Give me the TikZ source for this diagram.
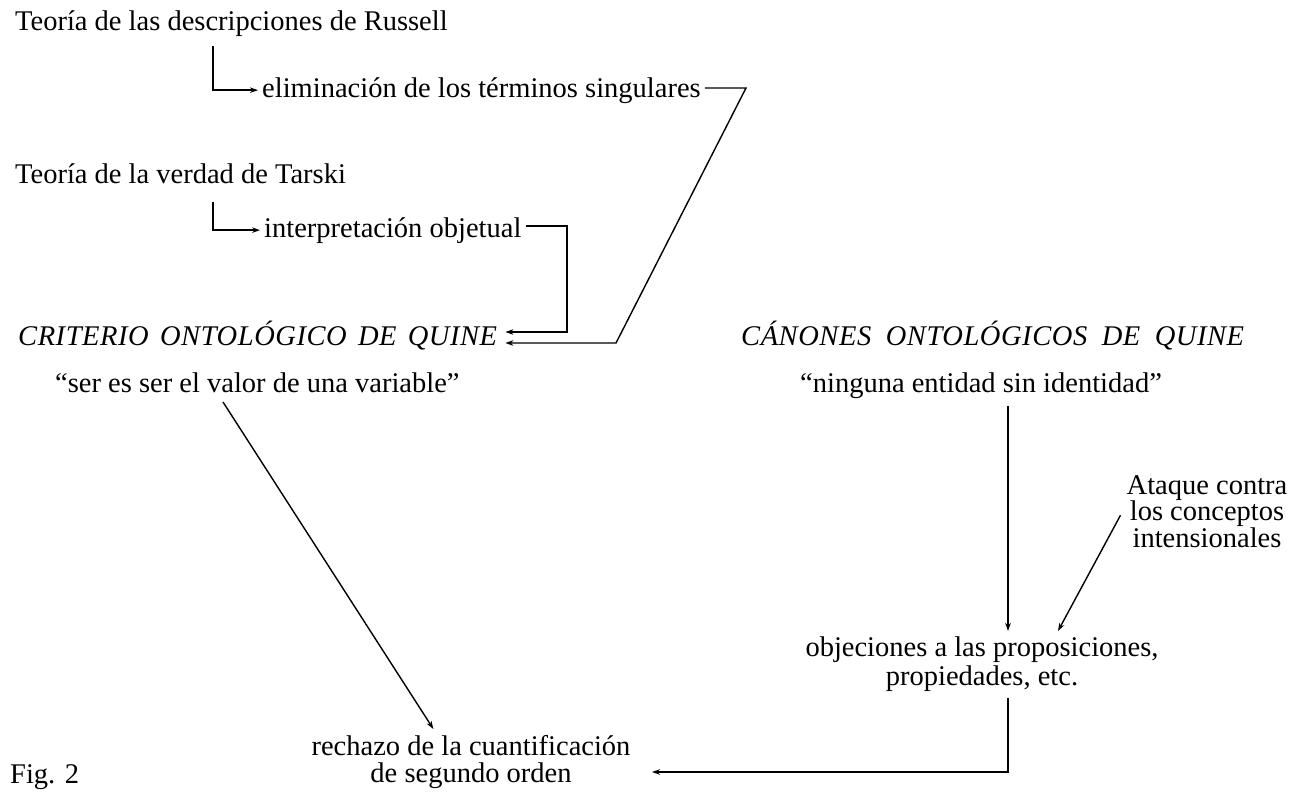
\documentclass[tikz,border=0pt]{standalone}
\usepackage{fontspec}
\setmainfont{Liberation Serif}
\newfontfamily\spacedit[LetterSpace=2]{Liberation Serif Italic}
\usetikzlibrary{arrows.meta,calc}
\begin{document}
\begin{tikzpicture}[x=1pt,y=-1pt,
  txt/.style={inner sep=0pt, font=\fontsize{28.5}{26}\selectfont},
  arr/.style={line width=1.4pt, -{Stealth[length=8pt,width=5.5pt]}}]
\useasboundingbox (0,0) rectangle (1314,793);
% texts
\node[txt, anchor=base west] (russell) at (15,30) {Teoría de las descripciones de Russell};
\node[txt, anchor=base west] (elim) at (262,97) {eliminación de los términos singulares};
\node[txt, anchor=base west] (tarski) at (15,183) {Teoría de la verdad de Tarski};
\node[txt, anchor=base west] (interp) at (264,237) {interpretación objetual};
\node[txt, anchor=base west] (criterio) at (18,345) {\makebox[479pt][s]{\spacedit CRITERIO ONTOLÓGICO DE QUINE}};
\node[txt, anchor=base west] (ser) at (55,392) {“ser es ser el valor de una variable”};
\node[txt, anchor=base west] (canones) at (741,345) {\makebox[503pt][s]{\spacedit CÁNONES ONTOLÓGICOS DE QUINE}};
\node[txt, anchor=base west] (ninguna) at (800,392) {“ninguna entidad sin identidad”};
\node[txt, align=center, anchor=north, font=\fontsize{28.5}{26.5}\selectfont] (ataque) at (1207,475) {Ataque contra\\los conceptos\\intensionales};
\node[txt, align=center, anchor=north, font=\fontsize{28.5}{28.5}\selectfont] (objec) at (982,637) {objeciones a las proposiciones,\\propiedades, etc.};
\node[txt, align=center, anchor=north, font=\fontsize{28.5}{27.5}\selectfont] (rechazo) at (471,735) {rechazo de la cuantificación\\de segundo orden};
\node[txt, anchor=base west] (fig) at (10,783) {Fig. 2};
% helper coordinates
\coordinate (b1) at (213,46);
\coordinate (b2) at (213,202);
\coordinate (e1) at (746,88);
\coordinate (e2) at (616,343);
\coordinate (i1) at (567,300);
\coordinate (v1) at (1008,0);
\coordinate (rc) at (652,772);
% connectors
\draw[arr, shorten >=4pt] (b1) |- (elim.west);
\draw[arr, shorten >=4pt] (b2) |- (interp.west);
\draw[arr] ($(elim.base east)+(4,-9)$) -- (e1) -- (e2) -- ($(criterio.base east)+(8,-2)$);
\draw[arr] ($(interp.base east)+(4,-11)$) -| (i1) |- ($(criterio.base east)+(8,-13)$);
\draw[arr] ($(ser.base west)+(168,10)$) -- ($(rechazo.north west)+(122,-6)$);
\draw[arr] ($(ninguna.south -| v1)+(0,8)$) -- ($(objec.north -| v1)+(0,-6)$);
\draw[arr] ($(ataque.west)+(-6,4)$) -- ($(objec.north)+(76,-6)$);
\draw[arr] ($(objec.south -| v1)+(0,6)$) |- (rc);
\end{tikzpicture}
\end{document}
